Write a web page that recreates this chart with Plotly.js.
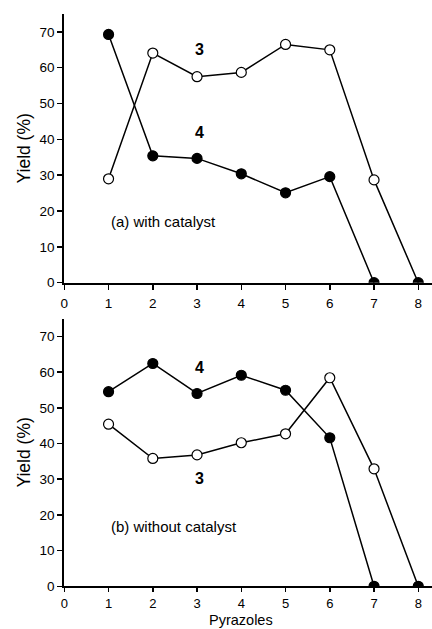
<!DOCTYPE html>
<html>
<head>
<meta charset="utf-8">
<script src="https://cdn.plot.ly/plotly-3.0.1.min.js"></script>
<style>html,body{margin:0;padding:0;background:#fff;}#chart{width:432px;height:629px;}</style>
</head>
<body>
<div id="chart"></div>
<script>
// Pyrazole index
const pyrazoles = [1, 2, 3, 4, 5, 6, 7, 8];
// (a) with catalyst
const withCat3 = [29.0, 64.1, 57.5, 58.7, 66.5, 65.0, 28.7, 0];
const withCat4 = [69.3, 35.4, 34.7, 30.4, 25.1, 29.6, 0];
// (b) without catalyst
const noCat3 = [45.4, 35.8, 36.8, 40.2, 42.7, 58.4, 32.9, 0];
const noCat4 = [54.5, 62.4, 54.0, 59.1, 54.9, 41.6, 0];
const xTicks = [0, 1, 2, 3, 4, 5, 6, 7, 8];
const yTicks = [0, 10, 20, 30, 40, 50, 60, 70];

const FONT = 'Liberation Sans, Arial, sans-serif';

function openColors(n) {
  // last point (zero yield) is drawn filled in the original
  return Array.from({length: n}, (_, i) => i === n - 1 ? '#000' : '#fff');
}

function series(x, y, filled, xa, ya) {
  return {
    x: x, y: y, xaxis: xa, yaxis: ya,
    type: 'scatter', mode: 'lines+markers',
    line: {color: '#000', width: 1.5},
    marker: {
      symbol: 'circle', size: 10,
      color: filled ? '#000' : openColors(y.length),
      line: {color: '#000', width: 1.2}
    },
    cliponaxis: true,
    showlegend: false, hoverinfo: 'skip'
  };
}

const data = [
  series(pyrazoles.slice(0, withCat4.length), withCat4, true, 'x', 'y'),
  series(pyrazoles.slice(0, withCat3.length), withCat3, false, 'x', 'y'),
  series(pyrazoles.slice(0, noCat4.length), noCat4, true, 'x2', 'y2'),
  series(pyrazoles.slice(0, noCat3.length), noCat3, false, 'x2', 'y2')
];

const xDom = [64.3 / 432, 1];
function xaxis(anchor, standoff, len, fsize) {
  return {
    domain: xDom, anchor: anchor, range: [0, 8.31],
    tickvals: xTicks, ticktext: xTicks.map(String),
    showline: true, linewidth: 2, linecolor: '#000',
    ticks: 'outside', ticklen: len, tickwidth: 1.5, tickcolor: '#000',
    ticklabelstandoff: standoff,
    showgrid: false, zeroline: false,
    tickfont: {family: FONT, size: fsize, color: '#000'}
  };
}
function yaxis(anchor, dom) {
  return {
    domain: dom, anchor: anchor, range: [0, 75],
    tickvals: yTicks, ticktext: yTicks.map(String),
    showline: true, linewidth: 2, linecolor: '#000',
    ticks: 'outside', ticklen: 5, tickwidth: 1.5, tickcolor: '#000',
    showgrid: false, zeroline: false,
    tickfont: {family: FONT, size: 13.5, color: '#000'},
    title: {text: 'Yield (%)', font: {family: FONT, size: 17.5, color: '#000'}, standoff: 4}
  };
}

const layout = {
  width: 432, height: 629,
  margin: {l: 0, r: 0, t: 0, b: 0},
  paper_bgcolor: '#fff', plot_bgcolor: 'rgba(0,0,0,0)',
  font: {family: FONT, color: '#000'},
  xaxis: xaxis('y', 2, 5, 13.5),
  yaxis: yaxis('x', [1 - 282.7 / 629, 1 - 14 / 629]),
  xaxis2: xaxis('y2', 0, 4, 13),
  yaxis2: yaxis('x2', [1 - 586.3 / 629, 1 - 318.5 / 629]),
  annotations: [
    {xref: 'x', yref: 'y', x: 3.05, y: 65, text: '<b>3</b>', showarrow: false, font: {family: FONT, size: 16}},
    {xref: 'x', yref: 'y', x: 3.05, y: 41.8, text: '<b>4</b>', showarrow: false, font: {family: FONT, size: 16}},
    {xref: 'x', yref: 'y', x: 1.0, y: 17, xanchor: 'left', text: '(a) with catalyst', showarrow: false, font: {family: FONT, size: 15}},
    {xref: 'x2', yref: 'y2', x: 3.05, y: 61.4, text: '<b>4</b>', showarrow: false, font: {family: FONT, size: 16}},
    {xref: 'x2', yref: 'y2', x: 3.05, y: 30.3, text: '<b>3</b>', showarrow: false, font: {family: FONT, size: 16}},
    {xref: 'x2', yref: 'y2', x: 1.0, y: 16.8, xanchor: 'left', text: '(b) without catalyst', showarrow: false, font: {family: FONT, size: 15}},
    {xref: 'paper', yref: 'paper', x: 241 / 432, y: 0, xanchor: 'center', yanchor: 'bottom',
     text: 'Pyrazoles', showarrow: false, borderpad: 0, font: {family: FONT, size: 14.5, color: '#000'}}
  ]
};

Plotly.newPlot('chart', data, layout, {staticPlot: true, displayModeBar: false});
</script>
</body>
</html>
